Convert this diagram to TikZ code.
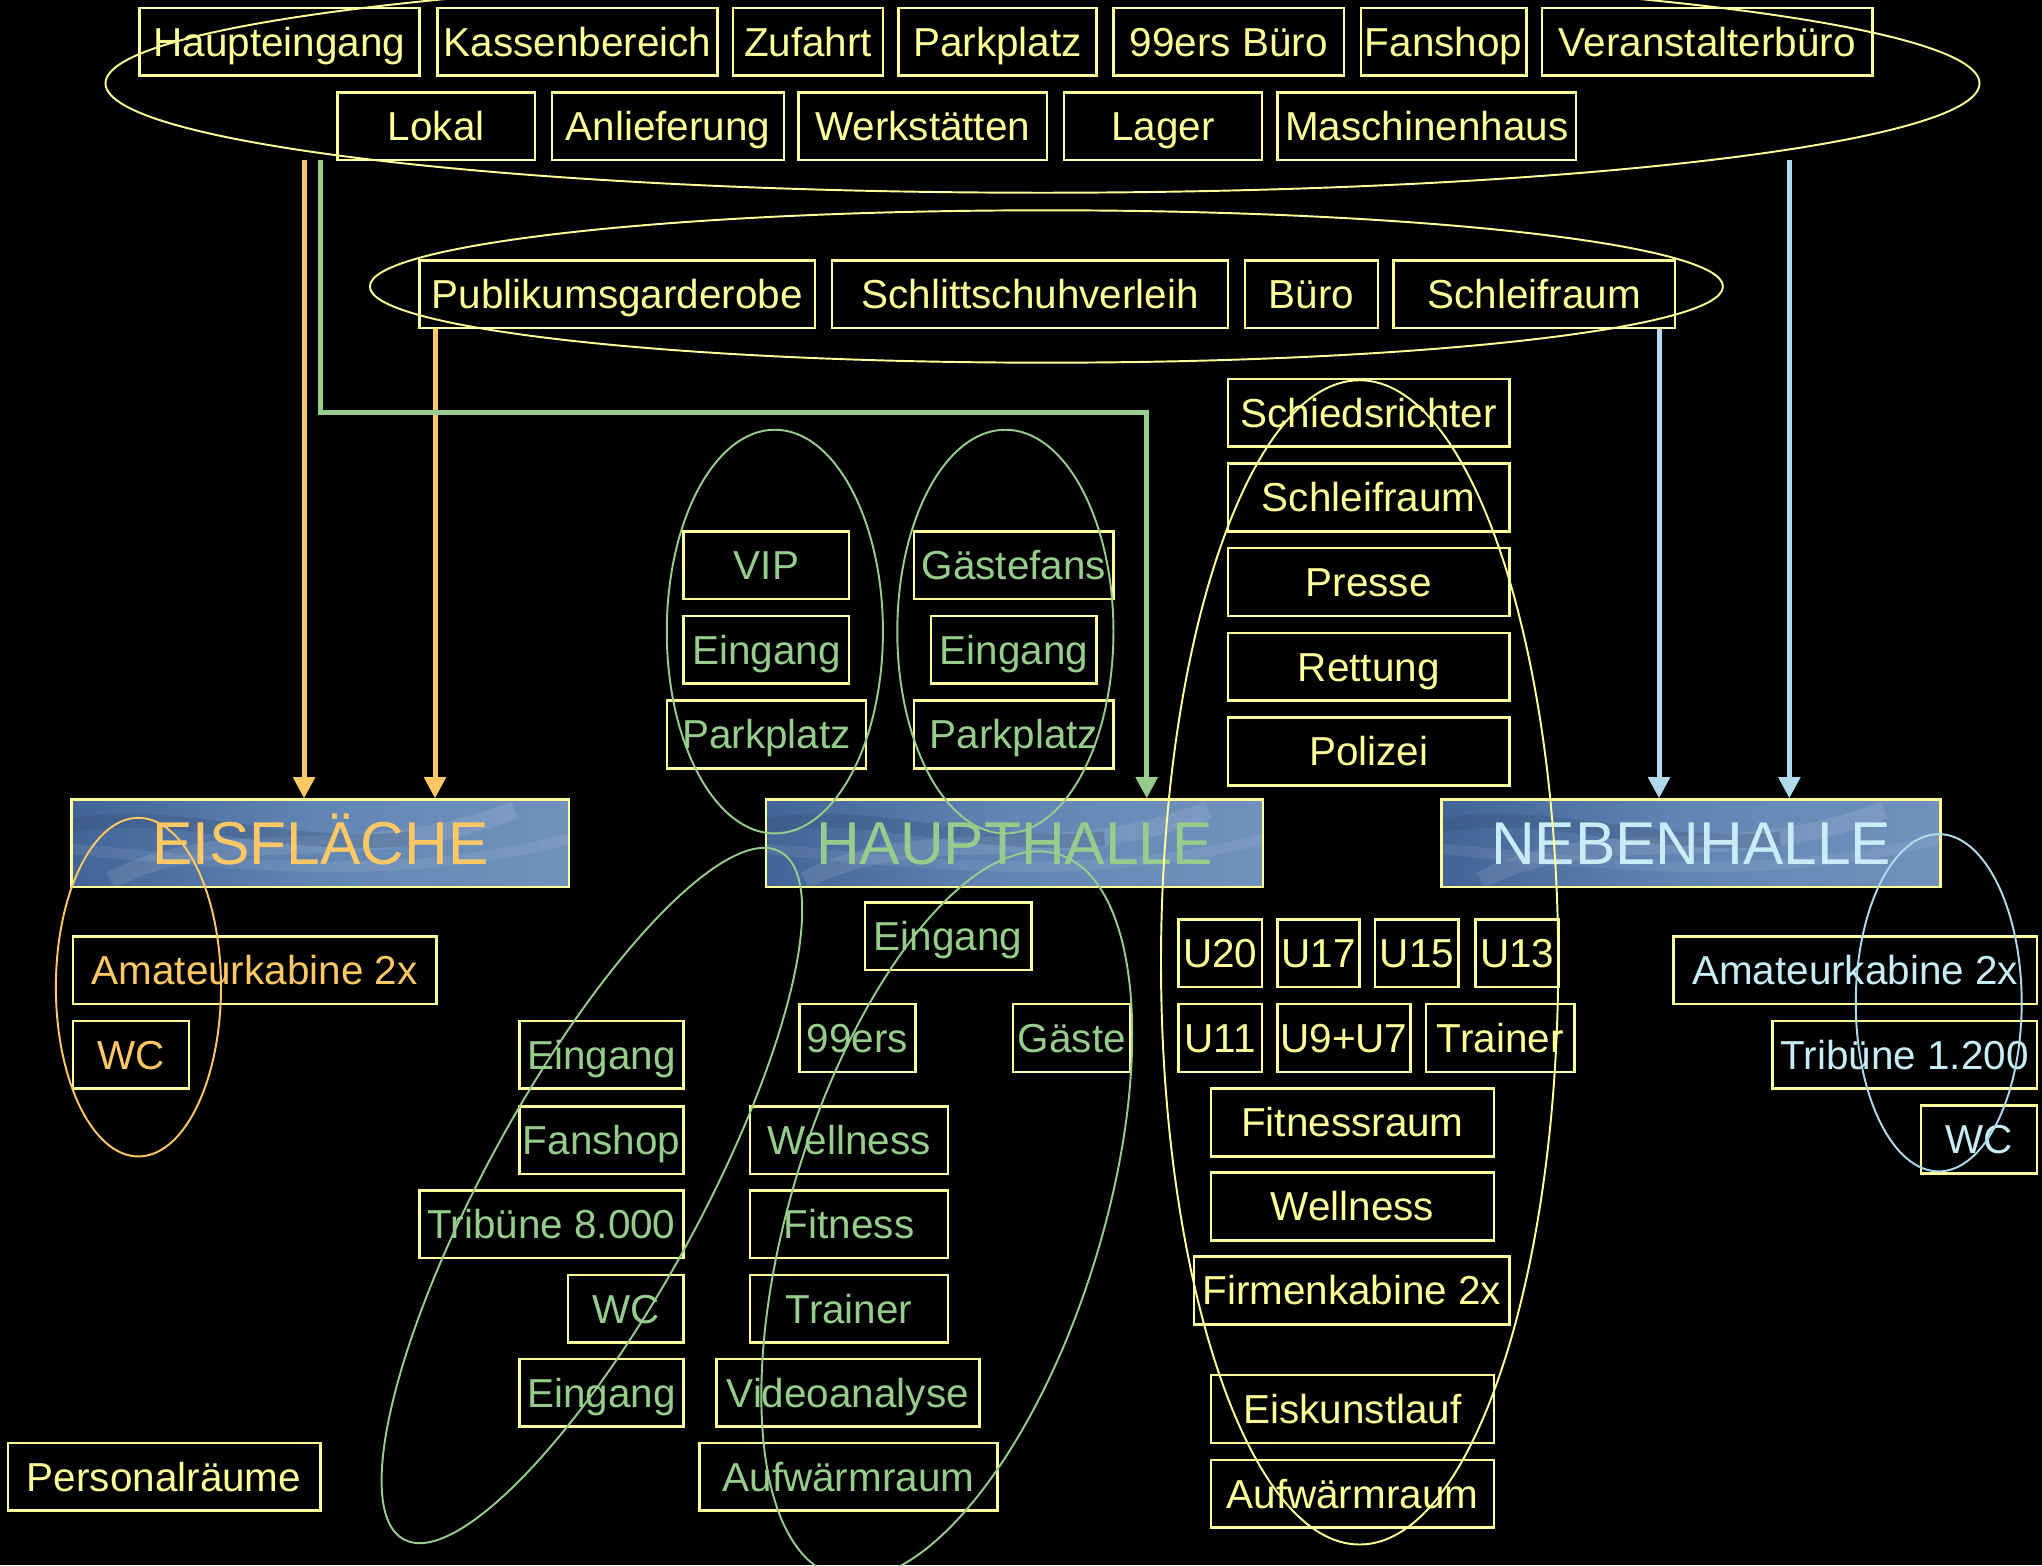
\documentclass[tikz,border=0pt]{standalone}
\usepackage{fontspec}
\setmainfont{Liberation Sans}
\usetikzlibrary{positioning, calc, fit, arrows.meta}

\definecolor{roomyellow}{RGB}{255,255,153}
\definecolor{eisorange}{RGB}{255,200,100}
\definecolor{hallgreen}{RGB}{150,205,140}
\definecolor{nebenblue}{RGB}{200,236,248}
\definecolor{arrowblue}{RGB}{175,218,236}
\definecolor{icedark}{RGB}{66,100,150}
\definecolor{icemid}{RGB}{98,134,180}
\definecolor{icelight}{RGB}{112,146,188}

\begin{document}
\begin{tikzpicture}[
		x=0.013023cm, y=-0.013023cm,
		>={Triangle[length=6pt,width=6pt]},
		room/.style={draw=roomyellow, line width=0.7pt, inner sep=0pt,
			font=\fontsize{11.5}{13}\selectfont, text height=8.2pt, text depth=0pt,
			minimum height=0.677cm},
		yel/.style={room, text=roomyellow},
		ora/.style={room, text=eisorange},
		grn/.style={room, text=hallgreen},
		blu/.style={room, text=nebenblue},
		hall/.style={draw=roomyellow, line width=0.7pt, inner sep=0pt,
			font=\fontsize{17.2}{20}\selectfont, text height=12.3pt, text depth=0pt,
			minimum height=0.873cm,
			left color=icedark, right color=icelight, middle color=icemid,
			path picture={
				\path (path picture bounding box.north west) coordinate (ic);
				\draw[white, opacity=0.10, line width=5pt] ($(ic)+(30,62)$) .. controls ($(ic)+(120,15)$) and ($(ic)+(220,55)$) .. ($(ic)+(340,8)$);
				\draw[white, opacity=0.08, line width=3pt] ($(ic)+(0,38)$) .. controls ($(ic)+(110,48)$) and ($(ic)+(250,66)$) .. ($(ic)+(382,30)$);
				\draw[icedark!70!black, opacity=0.25, line width=4pt] ($(ic)+(0,20)$) .. controls ($(ic)+(80,5)$) and ($(ic)+(160,40)$) .. ($(ic)+(260,30)$);
			}},
		zone/.style={line width=0.55pt},
		flow/.style={->, line width=1.4pt}
		]
		
		\useasboundingbox (0,0) rectangle (1568,1202);
		\fill[black] (0,0) rectangle (1568,1202);
		\clip (0,0) rectangle (1568,1202);
		
		% ==========================================
		% GENERAL AREAS (top)
		% ==========================================
		\node[fit={(107,6) (322,58)}, yel] (hauptein) {Haupteingang};
		\node[fit={(336,6) (551,58)}, yel] (kasse) {Kassenbereich};
		\node[fit={(563,6) (678,58)}, yel] (zufahrt) {Zufahrt};
		\node[fit={(690,6) (842,58)}, yel] (parken) {Parkplatz};
		\node[fit={(855,6) (1032,58)}, yel] (buero99) {99ers Büro};
		\node[fit={(1045,6) (1172,58)}, yel] (fanshop) {Fanshop};
		\node[fit={(1184,6) (1438,58)}, yel] (veranst) {Veranstalterbüro};
		
		\node[fit={(259,71) (411,123)}, yel] (lokal) {Lokal};
		\node[fit={(424,71) (602,123)}, yel] (anlief) {Anlieferung};
		\node[fit={(613,71) (804,123)}, yel] (werk) {Werkstätten};
		\node[fit={(817,71) (969,123)}, yel] (lager) {Lager};
		\node[fit={(981,71) (1210,123)}, yel] (masch) {Maschinenhaus};
		
		\node[fit={(322,200) (626,252)}, yel] (garderobe) {Publikumsgarderobe};
		\node[fit={(639,200) (943,252)}, yel] (verleih) {Schlittschuhverleih};
		\node[fit={(956,200) (1058,252)}, yel] (buero) {Büro};
		\node[fit={(1070,200) (1286,252)}, yel] (schleif) {Schleifraum};
		
		% ==========================================
		% ICE SURFACES
		% ==========================================
		\node[fit={(55,614) (437,681)}, hall, text=eisorange] (eis) {EISFLÄCHE};
		\node[fit={(588,614) (970,681)}, hall, text=hallgreen] (haupt) {HAUPTHALLE};
		\node[fit={(1107,614) (1490,681)}, hall, text=nebenblue] (neben) {NEBENHALLE};
		
		% ==========================================
		% OFFICIALS & CABINS (yellow)
		% ==========================================
		\node[fit={(943,291) (1159,343)}, yel] (schiri) {Schiedsrichter};
		\node[fit={(943,356) (1159,408)}, yel] (schleifB) {Schleifraum};
		\node[fit={(943,421) (1159,473)}, yel] (presse) {Presse};
		\node[fit={(943,486) (1159,538)}, yel] (rettung) {Rettung};
		\node[fit={(943,551) (1159,603)}, yel] (polizei) {Polizei};
		
		\node[fit={(905,706) (969,758)}, yel] (uzwanzig) {U20};
		\node[fit={(981,706) (1044,758)}, yel] (usiebzehn) {U17};
		\node[fit={(1056,706) (1120,758)}, yel] (ufuenfzehn) {U15};
		\node[fit={(1133,706) (1197,758)}, yel] (udreizehn) {U13};
		\node[fit={(905,771) (969,823)}, yel] (uelf) {U11};
		\node[fit={(981,771) (1083,823)}, yel] (uneun) {U9+U7};
		\node[fit={(1095,771) (1209,823)}, yel] (trainerK) {Trainer};
		\node[fit={(930,836) (1147,888)}, yel] (fitraum) {Fitnessraum};
		\node[fit={(930,900) (1147,953)}, yel] (wellK) {Wellness};
		\node[fit={(917,965) (1159,1017)}, yel] (firmen) {Firmenkabine 2x};
		\node[fit={(930,1056) (1147,1108)}, yel] (eiskunst) {Eiskunstlauf};
		\node[fit={(930,1121) (1147,1173)}, yel] (aufwK) {Aufwärmraum};
		
		\node[fit={(6,1108) (246,1160)}, yel] (personal) {Personalräume};
		
		% ==========================================
		% EISFLÄCHE (orange)
		% ==========================================
		\node[fit={(56,719) (335,771)}, ora] (amaE) {Amateurkabine 2x};
		\node[fit={(56,784) (145,836)}, ora] (wcE) {WC};
		
		% ==========================================
		% HAUPTHALLE (green)
		% ==========================================
		\node[fit={(525,408) (652,460)}, grn] (vip) {VIP};
		\node[fit={(525,473) (652,525)}, grn] (eingVip) {Eingang};
		\node[fit={(512,538) (665,590)}, grn] (parkVip) {Parkplatz};
		\node[fit={(702,408) (855,460)}, grn] (gfans) {Gästefans};
		\node[fit={(715,473) (842,525)}, grn] (eingGast) {Eingang};
		\node[fit={(702,538) (855,590)}, grn] (parkGast) {Parkplatz};
		
		\node[fit={(664,693) (792,745)}, grn] (eingH) {Eingang};
		\node[fit={(614,771) (703,823)}, grn] (ers) {99ers};
		\node[fit={(778,771) (868,823)}, grn] (gaeste) {Gäste};
		
		\node[fit={(399,784) (525,836)}, grn] (eingA) {Eingang};
		\node[fit={(399,850) (525,901)}, grn] (fanH) {Fanshop};
		\node[fit={(322,914) (525,966)}, grn] (tribH) {Tribüne 8.000};
		\node[fit={(436,979) (525,1031)}, grn] (wcH) {WC};
		\node[fit={(399,1044) (525,1095)}, grn] (eingB) {Eingang};
		
		\node[fit={(576,850) (728,901)}, grn] (wellH) {Wellness};
		\node[fit={(576,914) (728,966)}, grn] (fitH) {Fitness};
		\node[fit={(576,979) (728,1031)}, grn] (trainH) {Trainer};
		\node[fit={(550,1044) (752,1095)}, grn] (video) {Videoanalyse};
		\node[fit={(537,1108) (766,1160)}, grn] (aufwH) {Aufwärmraum};
		
		% ==========================================
		% NEBENHALLE (blue)
		% ==========================================
		\node[fit={(1285,719) (1564,771)}, blu] (amaN) {Amateurkabine 2x};
		\node[fit={(1361,784) (1564,836)}, blu] (tribN) {Tribüne 1.200};
		\node[fit={(1475,849) (1564,901)}, blu] (wcN) {WC};
		
		% ==========================================
		% GROUPING ELLIPSES
		% ==========================================
		\draw[zone, draw=roomyellow] (800.5,64) ellipse [x radius=719.5, y radius=84];
		\draw[zone, draw=roomyellow] (803.5,220) ellipse [x radius=519.5, y radius=58.5];
		\draw[zone, draw=roomyellow] (1044,739) ellipse [x radius=152.5, y radius=447];
		\draw[zone, draw=eisorange] (106.3,758) ellipse [x radius=63.4, y radius=130];
		\draw[zone, draw=arrowblue] (1488.7,770) ellipse [x radius=63.7, y radius=129.5];
		\draw[zone, draw=hallgreen] (595,485) ellipse [x radius=83, y radius=155];
		\draw[zone, draw=hallgreen] (772,485) ellipse [x radius=83, y radius=155];
		\draw[zone, draw=hallgreen, rotate around={61.3:(454.5,918)}] (454.5,918) ellipse [x radius=301, y radius=82];
		\draw[zone, draw=hallgreen, rotate around={72.8:(727,933)}] (727,933) ellipse [x radius=290, y radius=119];
		
		% ==========================================
		% FLOWS
		% ==========================================
		\coordinate (srcEis) at (233.5,123);
		\coordinate (srcHaupt) at (246,123);
		\coordinate (knee) at (880.5,317);
		\coordinate (srcNeben) at (1374,123);
		\coordinate (gOut) at ($(garderobe.south west)+(13,0)$);
		\coordinate (sOut) at ($(schleif.south east)+(-13,0)$);
		
		\draw[flow, eisorange] (srcEis) -- (srcEis |- eis.north);
		\draw[flow, eisorange] (gOut) -- (gOut |- eis.north);
		\draw[flow, hallgreen] (srcHaupt) |- (knee) -- (knee |- haupt.north);
		\draw[flow, arrowblue] (sOut) -- (sOut |- neben.north);
		\draw[flow, arrowblue] (srcNeben) -- (srcNeben |- neben.north);
		
	\end{tikzpicture}
\end{document}
